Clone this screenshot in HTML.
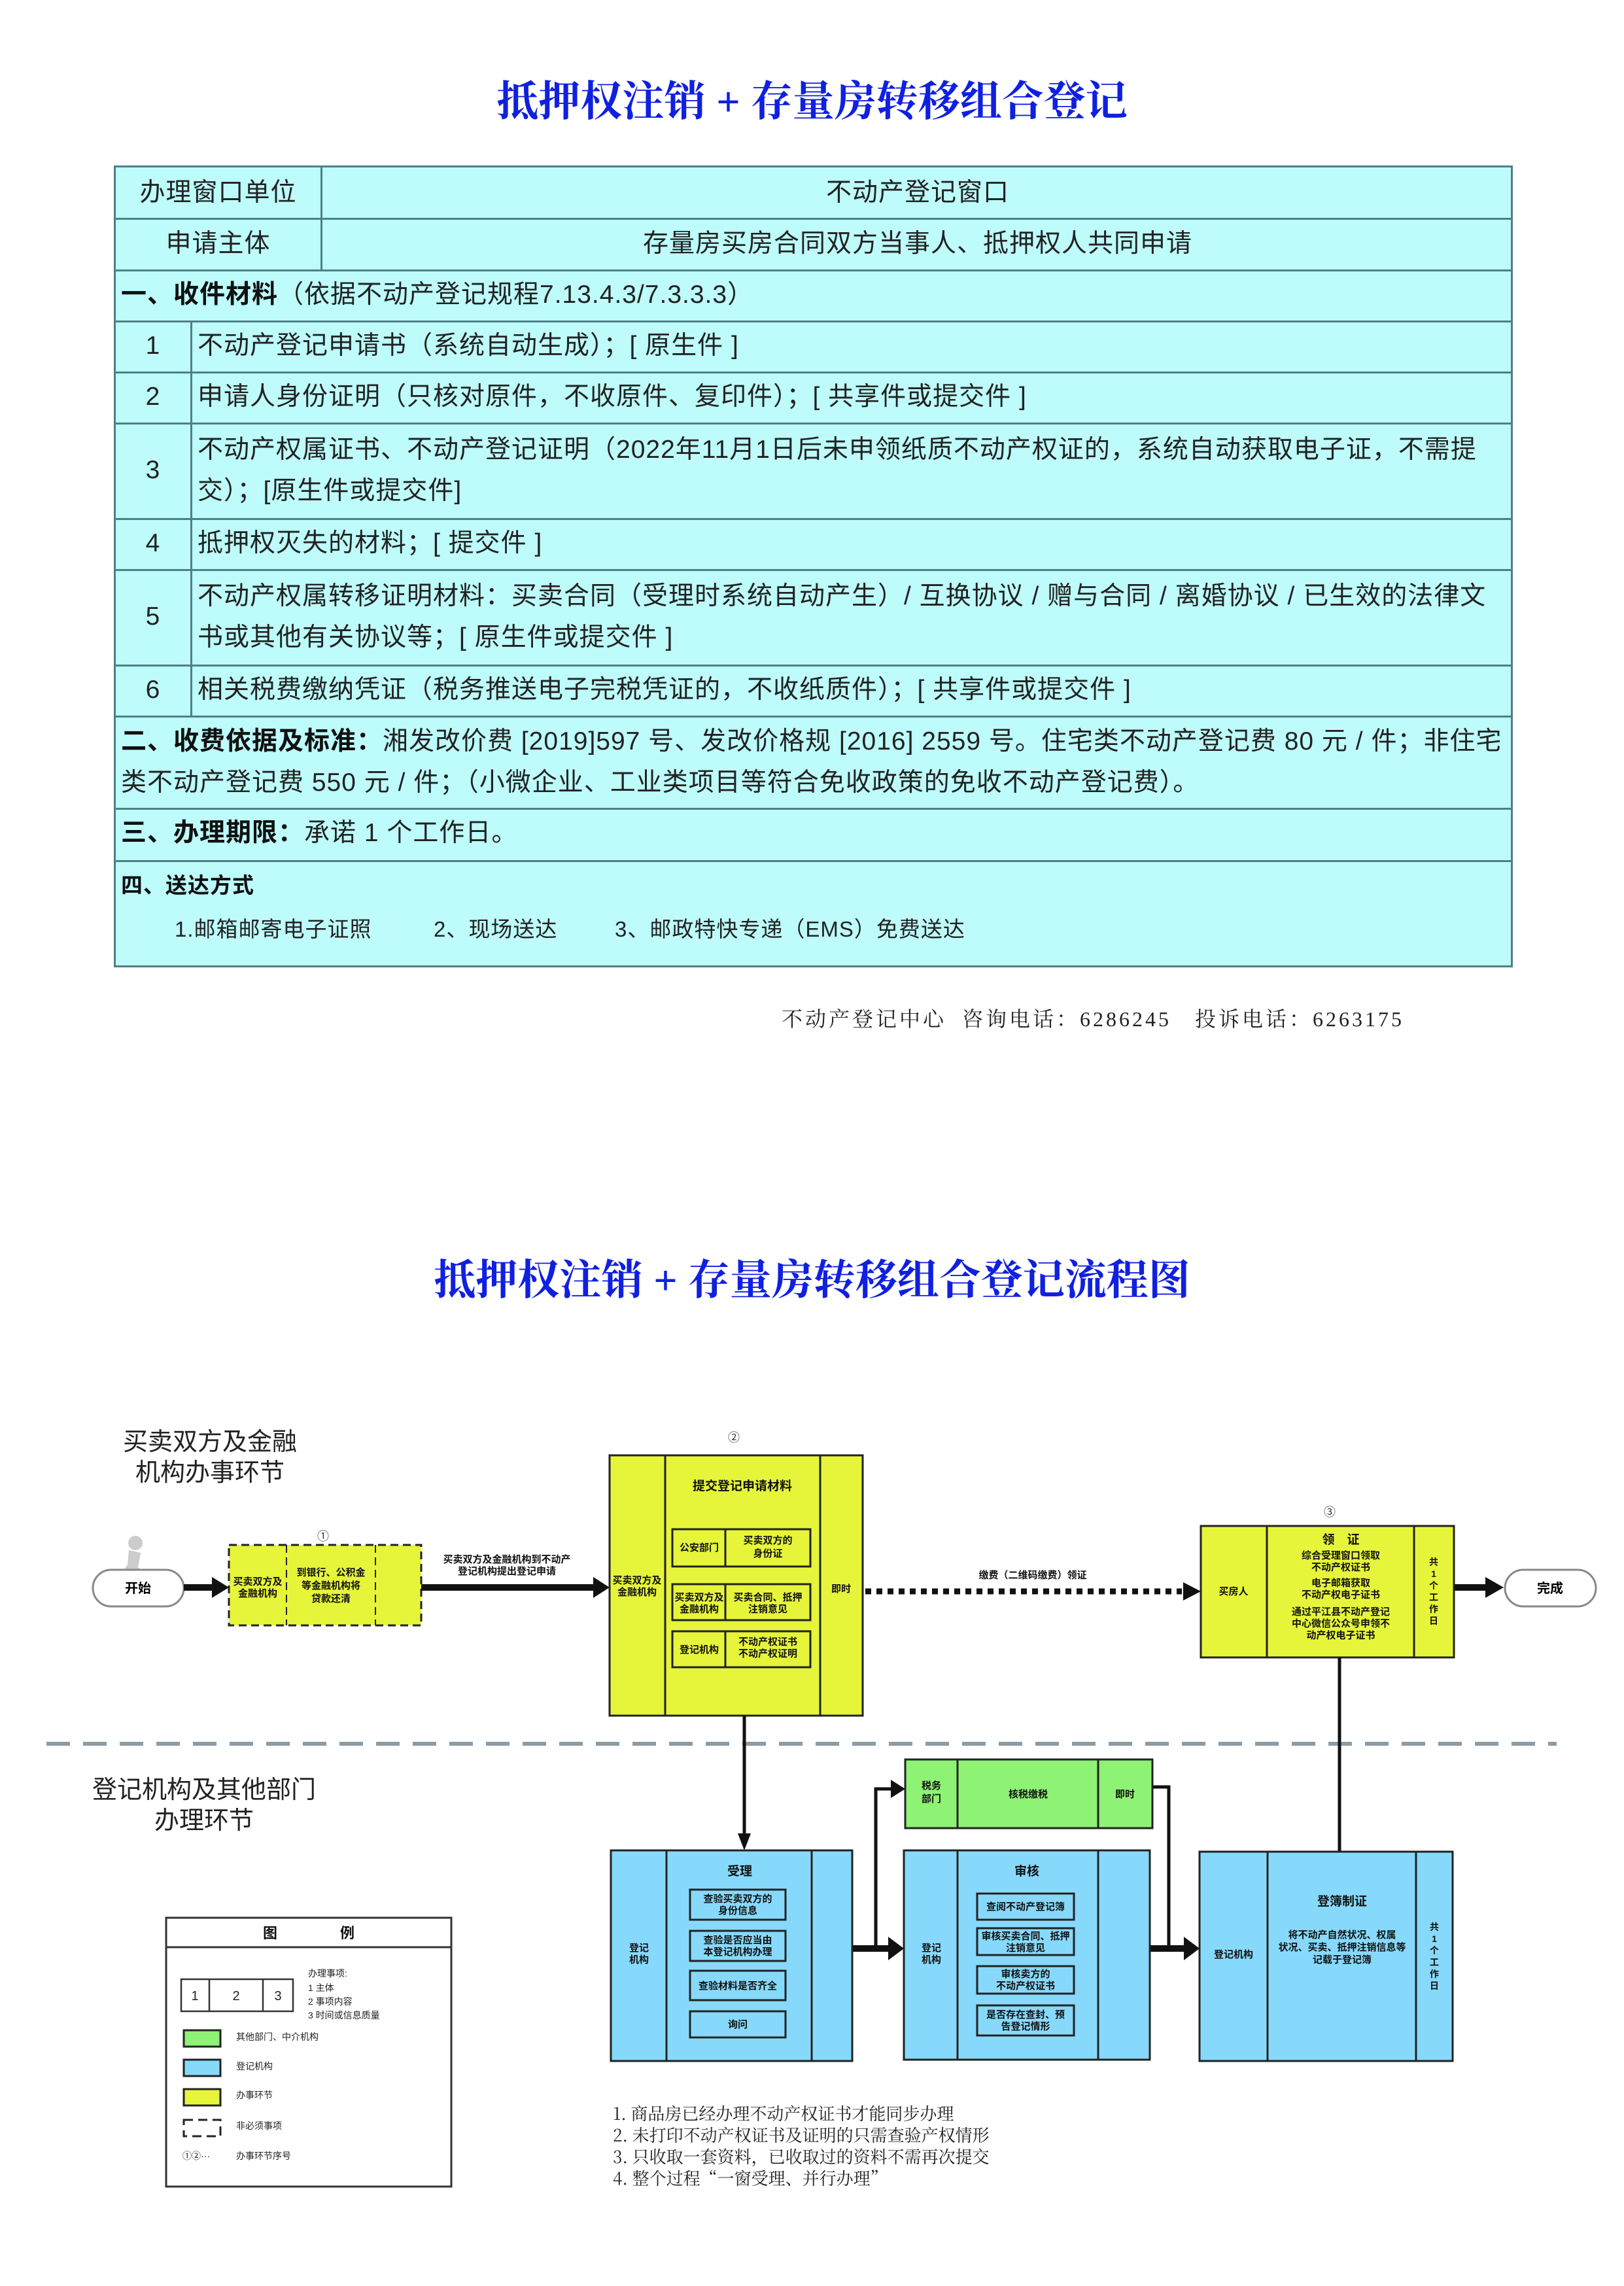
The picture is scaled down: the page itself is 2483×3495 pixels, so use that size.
<!DOCTYPE html>
<html><head><meta charset="utf-8">
<style>
*{margin:0;padding:0;box-sizing:border-box}
body{width:2483px;height:3495px;background:#fff;position:relative;overflow:hidden;font-family:"Liberation Sans","Noto Sans CJK SC",sans-serif;color:#222}
.title{position:absolute;left:0;width:2483px;text-align:center;font-family:"Liberation Serif","Noto Serif CJK SC",serif;font-weight:bold;color:#1020e0;font-size:64px;line-height:80px}
.tbl{position:absolute;left:174px;top:253px;width:2139px;height:1226px;background:#bdfcfb;border:3px solid #4f7f86}
.h{position:absolute;left:0;width:100%;border-top:3px solid #4f7f86}
.v{position:absolute;border-left:3px solid #4f7f86}
.c{position:absolute;font-size:39px;line-height:62px;white-space:nowrap;color:#222;letter-spacing:1px}
.ctr{text-align:center}
b{font-weight:bold;color:#111}
</style></head><body>
<div class="title" style="top:116px">抵押权注销 + 存量房转移组合登记</div>

<div class="tbl">
 <div class="h" style="top:77px"></div>
 <div class="h" style="top:156px"></div>
 <div class="h" style="top:234px"></div>
 <div class="h" style="top:312px"></div>
 <div class="h" style="top:390px"></div>
 <div class="h" style="top:536px"></div>
 <div class="h" style="top:614px"></div>
 <div class="h" style="top:760px"></div>
 <div class="h" style="top:838px"></div>
 <div class="h" style="top:979px"></div>
 <div class="h" style="top:1059px"></div>
 <div class="v" style="left:313px;top:0;height:156px"></div>
 <div class="v" style="left:114px;top:234px;height:604px"></div>

 <div class="c ctr" style="left:0;width:313px;top:8px">办理窗口单位</div>
 <div class="c ctr" style="left:316px;width:1820px;top:8px">不动产登记窗口</div>
 <div class="c ctr" style="left:0;width:313px;top:86px">申请主体</div>
 <div class="c ctr" style="left:316px;width:1820px;top:86px">存量房买房合同双方当事人、抵押权人共同申请</div>
 <div class="c" style="left:8px;top:164px"><b>一、收件材料</b>（依据不动产登记规程7.13.4.3/7.3.3.3）</div>
 <div class="c ctr" style="left:0;width:114px;top:242px">1</div>
 <div class="c" style="left:125px;top:242px">不动产登记申请书（系统自动生成）；[ 原生件 ]</div>
 <div class="c ctr" style="left:0;width:114px;top:320px">2</div>
 <div class="c" style="left:125px;top:320px">申请人身份证明（只核对原件，不收原件、复印件）；[ 共享件或提交件 ]</div>
 <div class="c ctr" style="left:0;width:114px;top:432px">3</div>
 <div class="c" style="left:125px;top:400px;line-height:63px">不动产权属证书、不动产登记证明（2022年11月1日后未申领纸质不动产权证的，系统自动获取电子证，不需提<br>交）；[原生件或提交件]</div>
 <div class="c ctr" style="left:0;width:114px;top:544px">4</div>
 <div class="c" style="left:125px;top:544px">抵押权灭失的材料；[ 提交件 ]</div>
 <div class="c ctr" style="left:0;width:114px;top:656px">5</div>
 <div class="c" style="left:125px;top:624px;line-height:63px">不动产权属转移证明材料：买卖合同（受理时系统自动产生）/ 互换协议 / 赠与合同 / 离婚协议 / 已生效的法律文<br>书或其他有关协议等；[ 原生件或提交件 ]</div>
 <div class="c ctr" style="left:0;width:114px;top:768px">6</div>
 <div class="c" style="left:125px;top:768px">相关税费缴纳凭证（税务推送电子完税凭证的，不收纸质件）；[ 共享件或提交件 ]</div>
 <div class="c" style="left:8px;top:846px;line-height:63px"><b>二、收费依据及标准：</b>湘发改价费 [2019]597 号、发改价格规 [2016] 2559 号。住宅类不动产登记费 80 元 / 件；非住宅<br>类不动产登记费 550 元 / 件；（小微企业、工业类项目等符合免收政策的免收不动产登记费）。</div>
 <div class="c" style="left:8px;top:987px"><b>三、办理期限：</b>承诺 1 个工作日。</div>
 <div class="c" style="left:8px;top:1067px;font-size:33px"><b>四、送达方式</b></div>
 <div class="c" style="left:90px;top:1134px;font-size:33px">1.邮箱邮寄电子证照</div>
 <div class="c" style="left:486px;top:1134px;font-size:33px">2、现场送达</div>
 <div class="c" style="left:763px;top:1134px;font-size:33px">3、邮政特快专递（EMS）免费送达</div>
</div>

<div style="position:absolute;left:1195px;top:1533px;font-family:'Liberation Serif','Noto Serif CJK SC',serif;font-size:32px;white-space:nowrap;color:#222;letter-spacing:4px">不动产登记中心&nbsp; 咨询电话：6286245&nbsp;&nbsp; 投诉电话：6263175</div>

<div class="title" style="top:1918px">抵押权注销 + 存量房转移组合登记流程图</div>

<svg style="position:absolute;left:0;top:0" width="2483" height="3495" font-family="Liberation Sans, Noto Sans CJK SC, sans-serif">
<g transform="translate(-3,-5)">
<g font-family="Noto Sans CJK SC, sans-serif" font-size="38" fill="#222" text-anchor="middle">
 <text x="324" y="2222">买卖双方及金融</text>
 <text x="324" y="2269">机构办事环节</text>
 <text x="315" y="2754">登记机构及其他部门</text>
 <text x="315" y="2801">办理环节</text>
</g>
<g font-size="18" text-anchor="middle" fill="#333">
 <text x="1125" y="2209">②</text><text x="497" y="2360">①</text><text x="2036" y="2323">③</text>
</g>
<g fill="#ccc"><circle cx="210" cy="2364" r="11"/><path d="M200 2375 l18 4 l-4 22 l14 12 l-6 4 l-16 -12 l-14 14 l-6 -4 l12 -18z"/></g>
<rect x="145" y="2405" width="139" height="56" rx="28" fill="#fff" stroke="#888" stroke-width="3"/>
<text x="214" y="2440" font-size="20" font-weight="bold" text-anchor="middle">开始</text>
<rect x="2304" y="2405" width="139" height="56" rx="28" fill="#fff" stroke="#888" stroke-width="3"/>
<text x="2373" y="2440" font-size="20" font-weight="bold" text-anchor="middle">完成</text>
<rect x="353" y="2367" width="294" height="123" fill="#e6f53a" stroke="#222" stroke-width="3" stroke-dasharray="12 7"/>
<line x1="441" y1="2367" x2="441" y2="2490" stroke="#222" stroke-width="2" stroke-dasharray="12 7"/>
<line x1="577" y1="2367" x2="577" y2="2490" stroke="#222" stroke-width="2" stroke-dasharray="12 7"/>
<g font-size="15" font-weight="bold" text-anchor="middle" fill="#111">
 <text x="397" y="2428">买卖双方及</text><text x="397" y="2446">金融机构</text>
 <text x="509" y="2414">到银行、公积金</text><text x="509" y="2434">等金融机构将</text><text x="509" y="2454">贷款还清</text>
 <text x="778" y="2394">买卖双方及金融机构到不动产</text><text x="778" y="2412">登记机构提出登记申请</text>
 <text x="1582" y="2418">缴费（二维码缴费）领证</text>
</g>
<g fill="#111">
 <rect x="284" y="2427" width="45" height="10"/><polygon points="327,2416 353,2432 327,2448"/>
 <rect x="647" y="2427" width="265" height="10"/><polygon points="910,2416 935,2432 910,2448"/>
 <rect x="2226" y="2427" width="50" height="10"/><polygon points="2274,2416 2302,2432 2274,2448"/>
 <polygon points="1812,2424 1839,2438 1812,2452"/>
</g>
<line x1="1326" y1="2438" x2="1810" y2="2438" stroke="#111" stroke-width="9" stroke-dasharray="9 8"/>
<rect x="935" y="2230" width="387" height="398" fill="#e6f53a" stroke="#222" stroke-width="3"/>
<line x1="1020" y1="2230" x2="1020" y2="2628" stroke="#222" stroke-width="3"/>
<line x1="1257" y1="2230" x2="1257" y2="2628" stroke="#222" stroke-width="3"/>
<g fill="none" stroke="#222" stroke-width="3">
 <rect x="1031" y="2343" width="211" height="57"/><rect x="1031" y="2427" width="211" height="55"/><rect x="1031" y="2499" width="211" height="55"/>
 <line x1="1112" y1="2343" x2="1112" y2="2400"/><line x1="1112" y1="2427" x2="1112" y2="2482"/><line x1="1112" y1="2499" x2="1112" y2="2554"/>
</g>
<g font-size="15" font-weight="bold" text-anchor="middle" fill="#111">
 <text x="1138" y="2283" font-size="19">提交登记申请材料</text>
 <text x="977" y="2426">买卖双方及</text><text x="977" y="2444">金融机构</text>
 <text x="1289" y="2439">即时</text>
 <text x="1072" y="2376">公安部门</text>
 <text x="1177" y="2365">买卖双方的</text><text x="1177" y="2385">身份证</text>
 <text x="1072" y="2452">买卖双方及</text><text x="1072" y="2470">金融机构</text>
 <text x="1177" y="2452">买卖合同、抵押</text><text x="1177" y="2470">注销意见</text>
 <text x="1072" y="2532">登记机构</text>
 <text x="1177" y="2520">不动产权证书</text><text x="1177" y="2538">不动产权证明</text>
</g>
<rect x="1839" y="2338" width="387" height="201" fill="#e6f53a" stroke="#222" stroke-width="3"/>
<line x1="1940" y1="2338" x2="1940" y2="2539" stroke="#222" stroke-width="3"/>
<line x1="2165" y1="2338" x2="2165" y2="2539" stroke="#222" stroke-width="3"/>
<g font-size="15" font-weight="bold" text-anchor="middle" fill="#111">
 <text x="1889" y="2443">买房人</text>
 <text x="2053" y="2365" font-size="19">领　证</text>
 <text x="2053" y="2388">综合受理窗口领取</text><text x="2053" y="2406">不动产权证书</text>
 <text x="2053" y="2430">电子邮箱获取</text><text x="2053" y="2448">不动产权电子证书</text>
 <text x="2053" y="2474">通过平江县不动产登记</text><text x="2053" y="2492">中心微信公众号申领不</text><text x="2053" y="2510">动产权电子证书</text>
 <g font-size="14"><text x="2195" y="2398">共</text><text x="2195" y="2416">1</text><text x="2195" y="2434">个</text><text x="2195" y="2452">工</text><text x="2195" y="2470">作</text><text x="2195" y="2488">日</text></g>
</g>
<line x1="74" y1="2671" x2="2383" y2="2671" stroke="#8a9ca6" stroke-width="6" stroke-dasharray="36 20"/>
<g stroke="#111" stroke-width="5" fill="none">
 <line x1="1141" y1="2628" x2="1141" y2="2812"/>
 <line x1="2051" y1="2539" x2="2051" y2="2836"/>
 <polyline points="1342,2984 1342,2740 1365,2740"/>
 <polyline points="1765,2737 1790,2737 1790,2984"/>
</g>
<g fill="#111">
 <polygon points="1131,2808 1151,2808 1141,2834"/>
 <rect x="1306" y="2979" width="57" height="10"/><polygon points="1361,2966 1385,2984 1361,3002"/>
 <polygon points="1365,2726 1387,2740 1365,2754"/>
 <rect x="1761" y="2979" width="54" height="10"/><polygon points="1813,2966 1837,2984 1813,3002"/>
</g>
<rect x="1387" y="2695" width="378" height="105" fill="#8ef274" stroke="#222" stroke-width="3"/>
<line x1="1467" y1="2695" x2="1467" y2="2800" stroke="#222" stroke-width="3"/>
<line x1="1682" y1="2695" x2="1682" y2="2800" stroke="#222" stroke-width="3"/>
<g font-size="15" font-weight="bold" text-anchor="middle" fill="#111">
 <text x="1427" y="2740">税务</text><text x="1427" y="2760">部门</text>
 <text x="1575" y="2753">核税缴税</text><text x="1723" y="2753">即时</text>
</g>
<g fill="#87d9fb" stroke="#222" stroke-width="3">
 <rect x="937" y="2834" width="369" height="322"/>
 <rect x="1385" y="2834" width="376" height="320"/>
 <rect x="1837" y="2836" width="387" height="320"/>
</g>
<g stroke="#222" stroke-width="3" fill="none">
 <line x1="1022" y1="2834" x2="1022" y2="3156"/><line x1="1244" y1="2834" x2="1244" y2="3156"/>
 <line x1="1467" y1="2834" x2="1467" y2="3154"/><line x1="1682" y1="2834" x2="1682" y2="3154"/>
 <line x1="1941" y1="2836" x2="1941" y2="3156"/><line x1="2168" y1="2836" x2="2168" y2="3156"/>
 <rect x="1058" y="2894" width="146" height="46"/><rect x="1058" y="2957" width="146" height="46"/><rect x="1058" y="3018" width="146" height="45"/><rect x="1058" y="3080" width="146" height="40"/>
 <rect x="1497" y="2900" width="148" height="40"/><rect x="1497" y="2953" width="148" height="41"/><rect x="1497" y="3011" width="148" height="42"/><rect x="1497" y="3071" width="148" height="46"/>
</g>
<g font-size="15" font-weight="bold" text-anchor="middle" fill="#111">
 <text x="1134" y="2872" font-size="19">受理</text>
 <text x="980" y="2988">登记</text><text x="980" y="3006">机构</text>
 <text x="1131" y="2913">查验买卖双方的</text><text x="1131" y="2931">身份信息</text>
 <text x="1131" y="2976">查验是否应当由</text><text x="1131" y="2994">本登记机构办理</text>
 <text x="1131" y="3046">查验材料是否齐全</text>
 <text x="1131" y="3105">询问</text>
 <text x="1573" y="2872" font-size="19">审核</text>
 <text x="1427" y="2988">登记</text><text x="1427" y="3006">机构</text>
 <text x="1571" y="2925">查阅不动产登记簿</text>
 <text x="1571" y="2970">审核买卖合同、抵押</text><text x="1571" y="2988">注销意见</text>
 <text x="1571" y="3028">审核卖方的</text><text x="1571" y="3046">不动产权证书</text>
 <text x="1571" y="3090">是否存在查封、预</text><text x="1571" y="3108">告登记情形</text>
 <text x="2055" y="2918" font-size="19">登簿制证</text>
 <text x="1889" y="2998">登记机构</text>
 <text x="2055" y="2968">将不动产自然状况、权属</text><text x="2055" y="2987">状况、买卖、抵押注销信息等</text><text x="2055" y="3006">记载于登记簿</text>
 <g font-size="14"><text x="2196" y="2956">共</text><text x="2196" y="2974">1</text><text x="2196" y="2992">个</text><text x="2196" y="3010">工</text><text x="2196" y="3028">作</text><text x="2196" y="3046">日</text></g>
</g>
<rect x="257" y="2937" width="436" height="411" fill="#fff" stroke="#333" stroke-width="3"/>
<line x1="257" y1="2982" x2="693" y2="2982" stroke="#333" stroke-width="3"/>
<g font-size="22" font-weight="bold" fill="#111"><text x="405" y="2968">图</text><text x="523" y="2968">例</text></g>
<g fill="none" stroke="#333" stroke-width="2.5">
 <rect x="280" y="3031" width="171" height="49"/><line x1="323" y1="3031" x2="323" y2="3080"/><line x1="405" y1="3031" x2="405" y2="3080"/>
</g>
<g font-size="20" fill="#222" text-anchor="middle"><text x="301" y="3063">1</text><text x="364" y="3063">2</text><text x="428" y="3063">3</text></g>
<g font-size="14" fill="#222">
 <text x="474" y="3027">办理事项:</text><text x="474" y="3049">1 主体</text><text x="474" y="3070">2 事项内容</text><text x="474" y="3091">3 时间或信息质量</text>
 <text x="364" y="3124">其他部门、中介机构</text><text x="364" y="3169">登记机构</text><text x="364" y="3213">办事环节</text><text x="364" y="3260">非必须事项</text><text x="364" y="3306">办事环节序号</text>
 <text x="282" y="3306">①②···</text>
</g>
<g stroke="#222" stroke-width="3">
 <rect x="284" y="3109" width="56" height="25" fill="#8ef274"/>
 <rect x="284" y="3154" width="56" height="25" fill="#87d9fb"/>
 <rect x="284" y="3199" width="56" height="25" fill="#e6f53a"/>
 <rect x="284" y="3246" width="56" height="25" fill="none" stroke-dasharray="14 8"/>
</g>
<g font-family="Noto Serif CJK SC, serif" font-size="26" fill="#222">
 <text x="940" y="3246">1. 商品房已经办理不动产权证书才能同步办理</text>
 <text x="940" y="3279">2. 未打印不动产权证书及证明的只需查验产权情形</text>
 <text x="940" y="3312">3. 只收取一套资料，已收取过的资料不需再次提交</text>
 <text x="940" y="3345">4. 整个过程“一窗受理、并行办理”</text>
</g>
</g>
</svg>
</body></html>
